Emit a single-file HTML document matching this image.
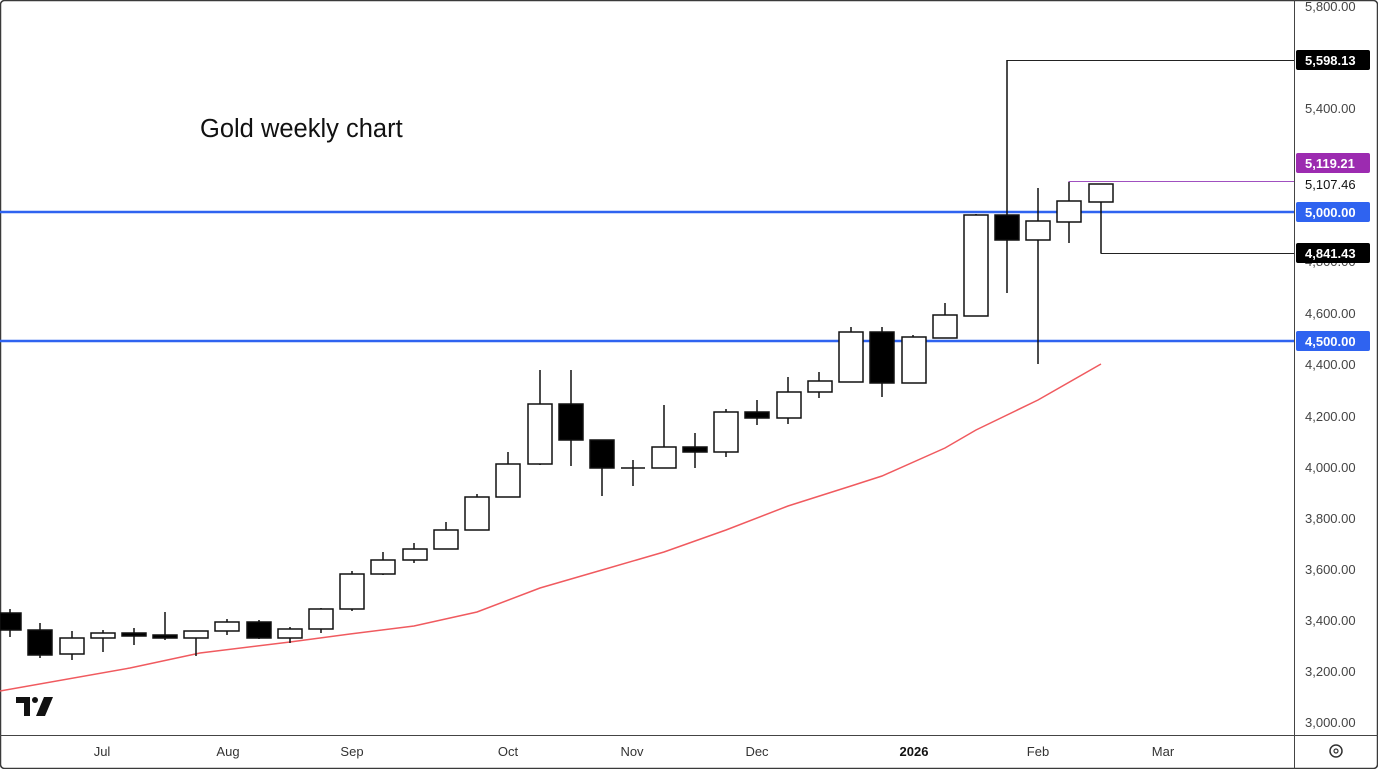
<!DOCTYPE html>
<html><head><style>
html,body{margin:0;padding:0;background:#fff}
svg{display:block;font-family:"Liberation Sans",sans-serif}
</style></head><body>
<svg width="1378" height="769" viewBox="0 0 1378 769" xmlns="http://www.w3.org/2000/svg">
<rect x="0.5" y="0.5" width="1377" height="768" rx="4" fill="#fff" stroke="#3a3a3a" stroke-width="1.5"/>
<line x1="1294.5" y1="0" x2="1294.5" y2="769" stroke="#444" stroke-width="1"/>
<line x1="0" y1="735.5" x2="1378" y2="735.5" stroke="#444" stroke-width="1"/>
<text x="200" y="137" font-size="25.5" fill="#111">Gold weekly chart</text>
<polyline fill="none" stroke="#f05a5f" stroke-width="1.5" points="0,691 130,668 200,653 290,642 350,634 414,626 477,612 540,588 602,570 664,552 726,530 788,506 851,486 882,476 945,448 976,430 1038,400 1101,364"/>
<line x1="0" y1="212" x2="1294" y2="212" stroke="#2f63f0" stroke-width="2.5"/>
<line x1="0" y1="341" x2="1294" y2="341" stroke="#2f63f0" stroke-width="2.5"/>
<polyline fill="none" stroke="#222" stroke-width="1" points="1007,200 1007,60.5 1294,60.5"/>
<polyline fill="none" stroke="#222" stroke-width="1" points="1101,202 1101,253.5 1294,253.5"/>
<polyline fill="none" stroke="#a050c0" stroke-width="1" points="1069,190 1069,181.5 1294,181.5"/>
<g stroke="#111" stroke-width="1.5">
<line x1="10" y1="609" x2="10" y2="637"/><rect x="0" y="613" width="21" height="17" fill="#000"/>
<line x1="40" y1="623" x2="40" y2="658"/><rect x="28" y="630" width="24" height="25" fill="#000"/>
<line x1="72" y1="631" x2="72" y2="660"/><rect x="60" y="638" width="24" height="16" fill="#fff"/>
<line x1="103" y1="630" x2="103" y2="652"/><rect x="91" y="633" width="24" height="5" fill="#fff"/>
<line x1="134" y1="628" x2="134" y2="645"/><rect x="122" y="633" width="24" height="3" fill="#000"/>
<line x1="165" y1="612" x2="165" y2="640"/><rect x="153" y="635" width="24" height="3" fill="#000"/>
<line x1="196" y1="631" x2="196" y2="656"/><rect x="184" y="631" width="24" height="7" fill="#fff"/>
<line x1="227" y1="619" x2="227" y2="635"/><rect x="215" y="622" width="24" height="9" fill="#fff"/>
<line x1="259" y1="620" x2="259" y2="639"/><rect x="247" y="622" width="24" height="16" fill="#000"/>
<line x1="290" y1="627" x2="290" y2="643"/><rect x="278" y="629" width="24" height="9" fill="#fff"/>
<line x1="321" y1="608" x2="321" y2="633"/><rect x="309" y="609" width="24" height="20" fill="#fff"/>
<line x1="352" y1="571" x2="352" y2="611"/><rect x="340" y="574" width="24" height="35" fill="#fff"/>
<line x1="383" y1="552" x2="383" y2="575"/><rect x="371" y="560" width="24" height="14" fill="#fff"/>
<line x1="414" y1="543" x2="414" y2="563"/><rect x="403" y="549" width="24" height="11" fill="#fff"/>
<line x1="446" y1="522" x2="446" y2="549"/><rect x="434" y="530" width="24" height="19" fill="#fff"/>
<line x1="477" y1="494" x2="477" y2="530"/><rect x="465" y="497" width="24" height="33" fill="#fff"/>
<line x1="508" y1="452" x2="508" y2="497"/><rect x="496" y="464" width="24" height="33" fill="#fff"/>
<line x1="540" y1="370" x2="540" y2="465"/><rect x="528" y="404" width="24" height="60" fill="#fff"/>
<line x1="571" y1="370" x2="571" y2="466"/><rect x="559" y="404" width="24" height="36" fill="#000"/>
<line x1="602" y1="440" x2="602" y2="496"/><rect x="590" y="440" width="24" height="28" fill="#000"/>
<line x1="633" y1="460" x2="633" y2="486"/><line x1="621" y1="468" x2="645" y2="468"/>
<line x1="664" y1="405" x2="664" y2="468"/><rect x="652" y="447" width="24" height="21" fill="#fff"/>
<line x1="695" y1="433" x2="695" y2="468"/><rect x="683" y="447" width="24" height="5" fill="#000"/>
<line x1="726" y1="409" x2="726" y2="457"/><rect x="714" y="412" width="24" height="40" fill="#fff"/>
<line x1="757" y1="400" x2="757" y2="425"/><rect x="745" y="412" width="24" height="6" fill="#000"/>
<line x1="788" y1="377" x2="788" y2="424"/><rect x="777" y="392" width="24" height="26" fill="#fff"/>
<line x1="819" y1="372" x2="819" y2="398"/><rect x="808" y="381" width="24" height="11" fill="#fff"/>
<line x1="851" y1="327" x2="851" y2="382"/><rect x="839" y="332" width="24" height="50" fill="#fff"/>
<line x1="882" y1="327" x2="882" y2="397"/><rect x="870" y="332" width="24" height="51" fill="#000"/>
<line x1="913" y1="335" x2="913" y2="383"/><rect x="902" y="337" width="24" height="46" fill="#fff"/>
<line x1="945" y1="303" x2="945" y2="338"/><rect x="933" y="315" width="24" height="23" fill="#fff"/>
<line x1="976" y1="214" x2="976" y2="316"/><rect x="964" y="215" width="24" height="101" fill="#fff"/>
<line x1="1007" y1="60" x2="1007" y2="293"/><rect x="995" y="215" width="24" height="25" fill="#000"/>
<line x1="1038" y1="188" x2="1038" y2="364"/><rect x="1026" y="221" width="24" height="19" fill="#fff"/>
<line x1="1069" y1="182" x2="1069" y2="243"/><rect x="1057" y="201" width="24" height="21" fill="#fff"/>
<line x1="1101" y1="202" x2="1101" y2="253"/><rect x="1089" y="184" width="24" height="18" fill="#fff"/>
</g>
<g fill="#111">
<rect x="16" y="697" width="14" height="6"/><rect x="24" y="697" width="6" height="19"/>
<circle cx="35" cy="700" r="3"/>
<polygon points="44,697 53,697 45,716 36,716"/>
</g>
<g font-size="13" fill="#444">
<text x="1305" y="11">5,800.00</text>
<text x="1305" y="113">5,400.00</text>
<text x="1305" y="189" fill="#111">5,107.46</text>
<text x="1305" y="318">4,600.00</text>
<text x="1305" y="369">4,400.00</text>
<text x="1305" y="421">4,200.00</text>
<text x="1305" y="472">4,000.00</text>
<text x="1305" y="523">3,800.00</text>
<text x="1305" y="574">3,600.00</text>
<text x="1305" y="625">3,400.00</text>
<text x="1305" y="676">3,200.00</text>
<text x="1305" y="727">3,000.00</text>
<text x="1305" y="266">4,800.00</text>
</g>
<g font-size="13" fill="#fff" font-weight="bold">
<rect x="1296" y="50" width="74" height="20" rx="2" fill="#000"/><text x="1305" y="65">5,598.13</text>
<rect x="1296" y="153" width="74" height="20" rx="2" fill="#9c2bb0"/><text x="1305" y="168">5,119.21</text>
<rect x="1296" y="202" width="74" height="20" rx="2" fill="#2f63f0"/><text x="1305" y="217">5,000.00</text>
<rect x="1296" y="243" width="74" height="20" rx="2" fill="#000"/><text x="1305" y="258">4,841.43</text>
<rect x="1296" y="331" width="74" height="20" rx="2" fill="#2f63f0"/><text x="1305" y="346">4,500.00</text>
</g>
<g font-size="13" fill="#333" text-anchor="middle">
<text x="102" y="756">Jul</text>
<text x="228" y="756">Aug</text>
<text x="352" y="756">Sep</text>
<text x="508" y="756">Oct</text>
<text x="632" y="756">Nov</text>
<text x="757" y="756">Dec</text>
<text x="914" y="756" font-weight="bold" fill="#111">2026</text>
<text x="1038" y="756">Feb</text>
<text x="1163" y="756">Mar</text>
</g>
<circle cx="1336" cy="751" r="6" fill="none" stroke="#333" stroke-width="1.5"/>
<circle cx="1336" cy="751" r="2" fill="none" stroke="#333" stroke-width="1.2"/>
</svg>
</body></html>
